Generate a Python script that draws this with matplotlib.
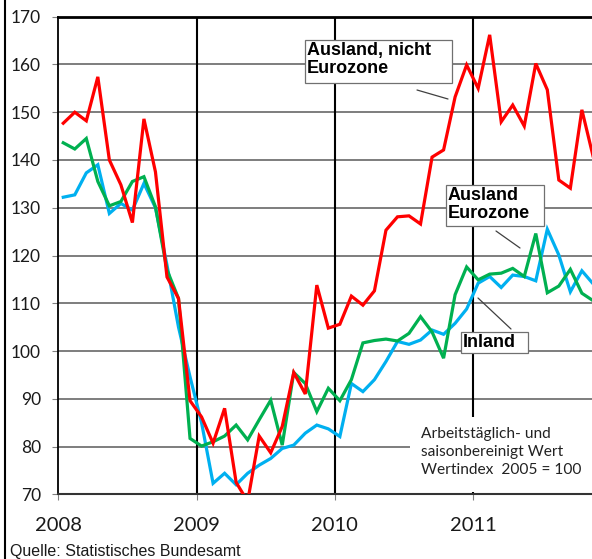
import numpy as np
import matplotlib
matplotlib.use("Agg")
import matplotlib.pyplot as plt
from matplotlib.patches import Rectangle
from matplotlib.lines import Line2D

# Monatswerte Jan 2008 - Nov 2011, Wertindex 2005 = 100
nicht_eurozone = [147.7, 150, 148.2, 157.4, 140, 134.8, 126.9, 148.6, 137.5, 115.5, 111, 89.6,
                  86.2, 80.7, 88, 72.5, 68.5, 82.2, 78.7, 84.2, 95.5, 91, 113.8, 104.8,
                  105.6, 111.5, 109.6, 112.6, 125.3, 128.1, 128.3, 126.6, 140.6, 142.1, 153.2, 159.9,
                  155, 166.2, 148, 151.5, 147.1, 160.2, 154.7, 135.8, 134.1, 150.5, 140.5]
eurozone = [143.6, 142.3, 144.5, 135.5, 130.4, 131.3, 135.5, 136.5, 130.2, 117, 111, 81.7,
            80.1, 81, 82.2, 84.5, 81.4, 85.6, 89.7, 80.3, 95.5, 93.2, 87.3, 92.2,
            89.6, 94, 101.7, 102.2, 102.5, 102.1, 103.7, 107.2, 104, 98.5, 111.8, 117.6,
            114.9, 116.1, 116.3, 117.3, 115.6, 124.6, 112.2, 113.6, 117.1, 112.1, 110.5]
inland = [132.2, 132.7, 137.3, 139, 128.8, 130.9, 129.5, 135.1, 130, 118, 105, 94.6,
          85, 72.3, 74.4, 72, 74.4, 76.1, 77.5, 79.6, 80.3, 82.8, 84.5, 83.7,
          82.1, 93.2, 91.5, 94, 97.8, 102, 101.4, 102.3, 104.4, 103.5, 105.8, 108.8,
          114.2, 115.6, 113.3, 115.9, 115.6, 114.7, 125.5, 120.1, 112.4, 116.8, 114]
jahre = [2008, 2009, 2010, 2011]
y_ticks = list(range(70, 171, 10))

monate = np.arange(len(inland))
x = 2008 + (monate + 0.43) / 12

W, H = 592, 559
fig = plt.figure(figsize=(W / 100, H / 100), dpi=100)
fig.patch.set_facecolor("white")

def px(xp, yp):
    # Pixel im Bild -> Datenkoordinaten
    return 2008 + (xp - 58.3) / 138.3, 170 - (yp - 16.7) / 4.776

ax = fig.add_axes([58.3 / W, 1 - 494.3 / H, (W - 58.3) / W, (494.3 - 16.7) / H])
ax.set_xlim(2008, 2008 + (W - 58.3) / 138.3)
ax.set_ylim(70, 170)
ax.set_axisbelow(True)

ax.plot(x, inland, color="#00B0F0", lw=2.3, zorder=3, solid_joinstyle="miter")
ax.plot(x, eurozone, color="#00B050", lw=2.3, zorder=4, solid_joinstyle="miter")
ax.plot(x, nicht_eurozone, color="#FF0000", lw=2.3, zorder=5, solid_joinstyle="miter")

ax.set_yticks(y_ticks)
ax.set_yticklabels([str(v) for v in y_ticks], fontsize=12.5, family="Lato", color="#1a1a1a")
ax.set_xticks(jahre)
ax.set_xticklabels([str(j) for j in jahre], fontsize=14.5, family="Lato", color="#1a1a1a")
ax.tick_params(axis="y", length=4.5, width=0.8, color="#808080", pad=8)
ax.tick_params(axis="x", length=4.5, width=0.8, color="#808080", pad=11.5)

for v in y_ticks[1:-1]:
    ax.axhline(v, color="#5a5a5a", lw=1.1, zorder=0.5)
for j in jahre[1:]:
    ax.axvline(j, color="black", lw=1.5, zorder=0.6)

ax.spines["right"].set_visible(False)
ax.spines["top"].set_color("black")
ax.spines["top"].set_linewidth(2)
ax.spines["left"].set_color("black")
ax.spines["left"].set_linewidth(1.3)
ax.spines["bottom"].set_color("#333333")
ax.spines["bottom"].set_linewidth(1.5)

# weisser Hintergrund fuer die Anmerkung
x0, y0 = px(410, 492)
x1, y1 = px(W + 5, 417)
ax.add_patch(Rectangle((x0, y0), x1 - x0, y1 - y0, facecolor="white", edgecolor="none", zorder=1))
tx, ty = px(421, 427)
ax.text(tx, ty, "Arbeitstäglich- und\nsaisonbereinigt Wert\nWertindex  2005 = 100",
        fontsize=11.2, family="Lato", color="#222222", va="top", ha="left",
        linespacing=1.35, zorder=6)

# Beschriftungen der Reihen
def label_box(left, top, right, bottom, text):
    bx0, by0 = px(left, bottom)
    bx1, by1 = px(right, top)
    ax.add_patch(Rectangle((bx0, by0), bx1 - bx0, by1 - by0, facecolor="white",
                           edgecolor="#707070", lw=0.9, zorder=7))
    tx, ty = px(left + 2, top + 2)
    ax.text(tx, ty, text, fontsize=13, family="Liberation Sans", weight="bold",
            va="top", ha="left", linespacing=1.1, zorder=8)

label_box(305, 40, 452, 83, "Ausland, nicht\nEurozone")
label_box(446, 185, 544, 226, "Ausland\nEurozone")
label_box(461, 332, 528, 353, "Inland")

for (a, b) in [((417, 90), (448, 99)), ((496, 231), (520, 248)), ((478, 298), (511, 329))]:
    ax.annotate("", xy=px(*b), xytext=px(*a),
                arrowprops=dict(arrowstyle="-", color="#404040", lw=0.9,
                                shrinkA=0, shrinkB=0), zorder=6)

fig.text(10 / W, 1 - 544 / H, "Quelle: Statistisches Bundesamt", fontsize=11.5,
         family="Liberation Sans", color="#1a1a1a", va="top", ha="left")
fig.add_artist(Line2D([4.5 / W, 4.5 / W], [0, 1], color="black", lw=1.5))

fig.savefig("out.png", dpi=100, facecolor="white")
